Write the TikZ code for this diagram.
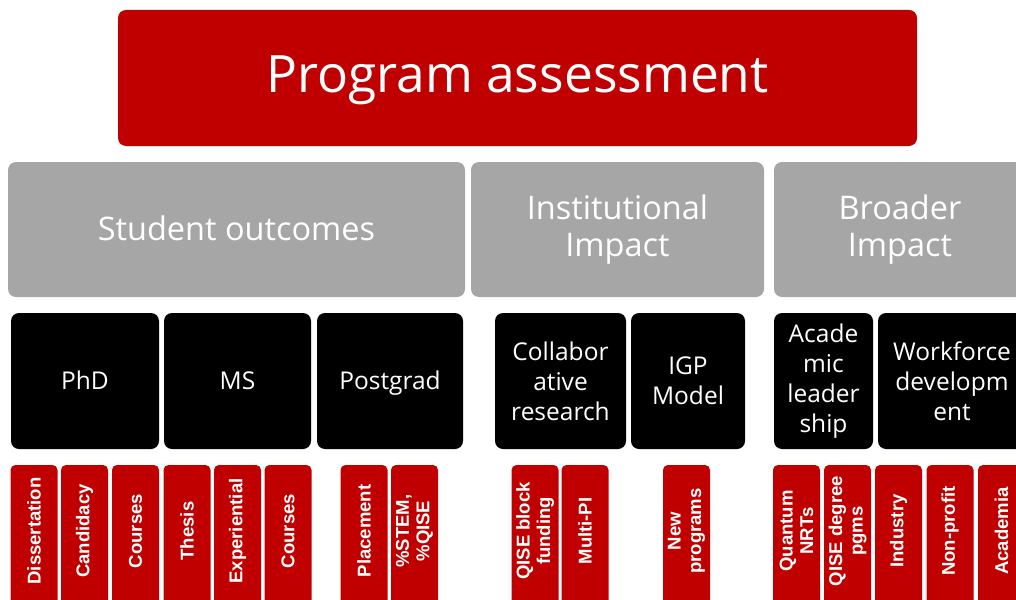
\documentclass[tikz,border=0pt]{standalone}
\usepackage{fontspec}
\newfontfamily\apt{Open Sans}
\newfontfamily\arl{Liberation Sans}
\definecolor{cred}{HTML}{C00000}
\definecolor{cgray}{HTML}{A6A6A6}
\begin{document}
\begin{tikzpicture}[x=1pt,y=-1pt,
  base/.style={rectangle, inner sep=0pt, outer sep=0pt, text=white, align=center, anchor=center},
  titlebox/.style={base, fill=cred, rounded corners=8pt},
  graybox/.style={base, fill=cgray, rounded corners=8pt, font=\apt\fontsize{32.5}{37}\selectfont},
  blackbox/.style={base, fill=black, rounded corners=8pt, font=\apt\fontsize{24.5}{30}\selectfont},
  redbox/.style={base, fill=cred, rounded corners=5pt},
  redtxt/.style={base, rotate=90, font=\arl\bfseries\fontsize{18.5}{20.5}\selectfont},
]
\useasboundingbox (0,0) rectangle (1016,599);
\clip (0,0) rectangle (1016,599);
% title
\node[titlebox, minimum width=799, minimum height=136] (title) at (517.5,78) {};
\node[base, anchor=base, font=\apt\fontsize{51.5}{56}\selectfont] (titlet) at (517.5,93) {Program assessment};
% gray row
\node[graybox, minimum width=457, minimum height=135] (so) at (236.5,229.5) {};
\node[base, anchor=base, font=\apt\fontsize{32.5}{37}\selectfont] (sot) at (236.5,240) {Student outcomes};
\node[graybox, minimum width=293, minimum height=135] (ii) at (617.5,229.5) {Institutional\\Impact};
\node[graybox, minimum width=252, minimum height=135] (bi) at (900,229.5) {Broader\\Impact};
% black row
\node[blackbox, minimum width=148, minimum height=136] (phd) at (85,381) {};
\node[blackbox, minimum width=147, minimum height=136] (ms) at (237.5,381) {};
\node[blackbox, minimum width=146, minimum height=136] (pg) at (390,381) {};
\node[base, anchor=base, font=\apt\fontsize{24.5}{30}\selectfont] (phdt) at (85,389) {PhD};
\node[base, anchor=base, font=\apt\fontsize{24.5}{30}\selectfont] (mst) at (237.5,389) {MS};
\node[base, anchor=base, font=\apt\fontsize{24.5}{30}\selectfont] (pgt) at (390,389) {Postgrad};
\node[blackbox, minimum width=131, minimum height=136] (cr) at (560.5,381) {Collabor\\ative\\research};
\node[blackbox, minimum width=114, minimum height=136] (igp) at (688,381) {IGP\\Model};
\node[blackbox, minimum width=99, minimum height=136] (al) at (823.5,381) {Acade\\mic\\leader\\ship};
\node[blackbox, minimum width=148, minimum height=136] (wd) at (952,381) {Workforce\\developm\\ent};
% red row
\foreach \n/\cx/\t in {r1/34/Dissertation, r2/84.5/Candidacy, r3/135.5/Courses, r4/187/Thesis, r5/237.5/Experiential, r6/288/Courses, r7/364/Placement, r8/414.5/{\%STEM,\\\%QISE}, r9/535/{QISE block\\funding}, r10/585/Multi-PI, r11/686.5/{New\\programs}, r12/796.5/{Quantum\\NRTs}, r13/847.5/{QISE degree\\pgms}, r14/898.5/Industry, r15/950/Non-profit, r16/1001.5/Academia}{
  \node[redbox, minimum width=47, minimum height=150] (\n) at (\cx,540) {};
  \node[redtxt] at (\cx,531) {\t};
}
\end{tikzpicture}
\end{document}
